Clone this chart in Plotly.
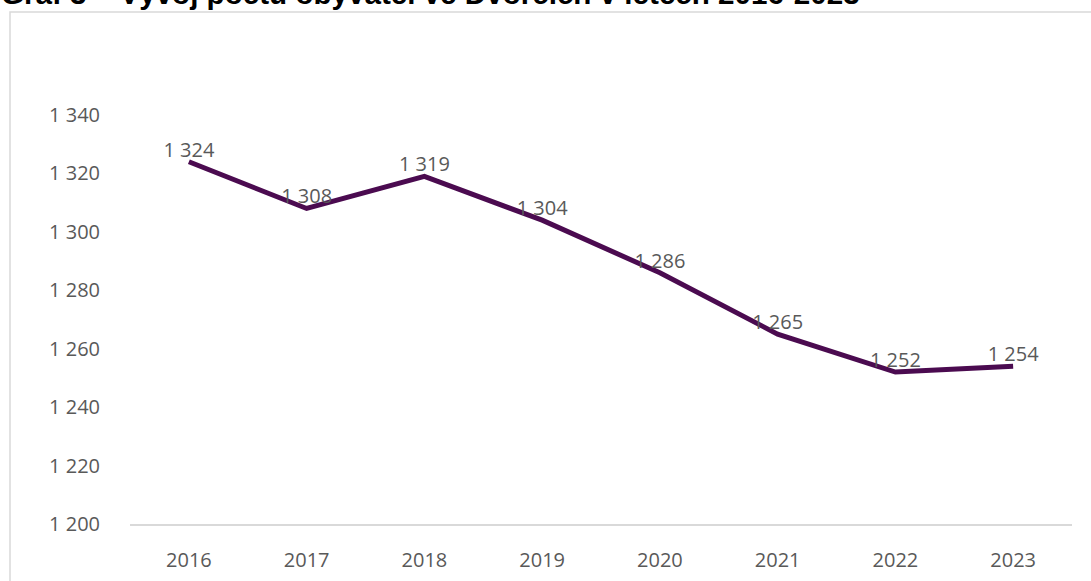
import plotly.graph_objects as go

years = ["2016", "2017", "2018", "2019", "2020", "2021", "2022", "2023"]
population = [1324, 1308, 1319, 1304, 1286, 1265, 1252, 1254]
y_ticks = [1200, 1220, 1240, 1260, 1280, 1300, 1320, 1340]
title_text = "Graf 3 – Vývoj počtu obyvatel ve Dvorcích v letech 2016-2023"


def fmt(v):
    return f"{v:,}".replace(",", " ")


FONT = "Open Sans, Lato, sans-serif"

fig = go.Figure()
fig.add_trace(go.Scatter(
    x=years, y=population, mode="lines+text",
    line=dict(color="#4B0B50", width=5),
    text=[fmt(v) for v in population],
    textposition="top center",
    textfont=dict(family=FONT, size=20, color="#595959"),
    cliponaxis=False, hoverinfo="skip",
))

W, H = 1091, 581
L, R, T, B = 130, 19, 115, 57
pw, ph = W - L - R, H - T - B


def px(x):
    return (x - L) / pw


def py(y):
    return (H - B - y) / ph


fig.add_shape(type="rect", xref="paper", yref="paper",
              x0=px(10), x1=px(1100), y0=py(600), y1=py(12),
              line=dict(color="#D9D9D9", width=1.5), fillcolor="rgba(0,0,0,0)", layer="below")

fig.add_annotation(text="<b>" + title_text + "</b>", xref="paper", yref="paper",
                   x=px(-1), y=py(-7), xanchor="left", yanchor="middle",
                   showarrow=False,
                   font=dict(family="Liberation Sans, Arial, sans-serif", size=29.6, color="#000000"))

fig.update_layout(
    width=W, height=H,
    margin=dict(l=L, r=R, t=T, b=B, pad=0, autoexpand=False),
    paper_bgcolor="white", plot_bgcolor="white",
    showlegend=False,
    xaxis=dict(type="category", range=[-0.5, len(years) - 0.5],
               showgrid=False, showline=True, linecolor="#D9D9D9", linewidth=1.5,
               ticks="", ticklabelstandoff=17, automargin=False,
               tickfont=dict(family=FONT, size=20, color="#595959")),
    yaxis=dict(range=[1200, 1340], showgrid=False, zeroline=False, showline=False,
               tickvals=y_ticks, ticktext=[fmt(v) for v in y_ticks], ticks="",
               ticklabelstandoff=29, automargin=False,
               tickfont=dict(family=FONT, size=20, color="#595959")),
)

fig.write_html("out.html", config={"displayModeBar": False},
               post_script="document.body.style.margin='0';document.body.style.overflow='hidden';")
